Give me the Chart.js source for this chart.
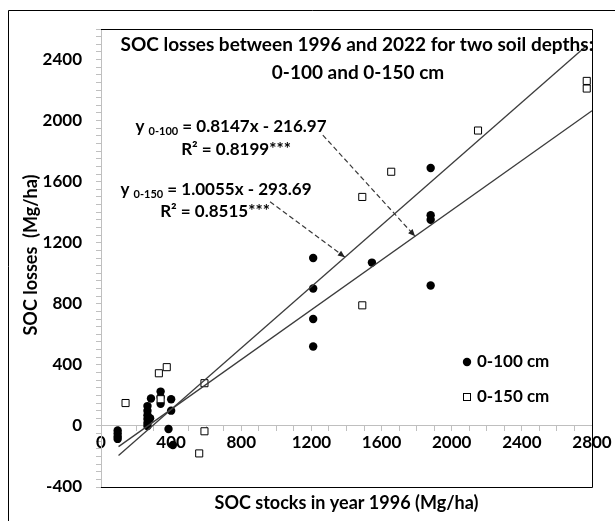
<!DOCTYPE html>
<html>
<head>
<meta charset="utf-8">
<script src="https://cdn.jsdelivr.net/npm/chart.js@4.4.1/dist/chart.umd.min.js"></script>
<style>
  html, body { margin: 0; padding: 0; background: #fff; }
  #wrap { width: 615px; height: 521px; }
</style>
</head>
<body>
<div id="wrap"><canvas id="canvas" width="615" height="521"></canvas></div>
<script>
// SOC stock in 1996 (x) vs SOC loss 1996-2022 (y), Mg/ha
var stock100 = [95, 95, 95, 95, 265, 265, 265, 265, 265, 265, 280, 285, 340, 340, 340, 400, 400, 385, 410,
                1210, 1210, 1210, 1210, 1545, 1880, 1880, 1880, 1880];
var loss100  = [-30, -50, -70, -85, 0, 20, 45, 70, 100, 130, 50, 180, 225, 190, 145, 175, 100, -20, -125,
                1100, 900, 700, 520, 1070, 1690, 1380, 1350, 920];
var stock150 = [140, 330, 375, 340, 590, 590, 560, 1490, 1490, 1655, 2150, 2770, 2770];
var loss150  = [150, 345, 385, 175, 280, -35, -180, 1500, 790, 1665, 1935, 2260, 2210];

// fitted trend lines (from the equations printed on the chart)
var trend100 = { slope: 0.8147, intercept: -216.97, from: 100, to: 2800 };
var trend150 = { slope: 1.0055, intercept: -293.69, from: 100, to: 2770 };

var chartTitle = ["SOC losses between 1996 and 2022 for two soil depths:", "0-100 and 0-150 cm"];
var xTitle = "SOC stocks in year 1996 (Mg/ha)";
var yTitle = "SOC losses  (Mg/ha)";
var seriesLabels = ["0-100 cm", "0-150 cm"];

// equation labels: [sub, rest, r2 text]
var eq100 = ["0-100", " = 0.8147x - 216.97", "R\u00B2 = 0.8199***"];
var eq150 = ["0-150", " = 1.0055x - 293.69", "R\u00B2 = 0.8515***"];
// dashed pointers: start (data units) and x where they touch the trend line
var pointer100 = { x0: 1265, y0: 1905, tipX: 1791 };
var pointer150 = { x0: 964, y0: 1469, tipX: 1391 };

function pairs(xs, ys) {
  return xs.map(function (x, i) { return { x: x, y: ys[i] }; });
}
function trendPts(t) {
  return [{ x: t.from, y: t.slope * t.from + t.intercept }, { x: t.to, y: t.slope * t.to + t.intercept }];
}

var FONT = "Lato";

function drawPointer(ctx, x0, y0, x1, y1) {
  ctx.save();
  ctx.strokeStyle = "#3a3a3a";
  ctx.lineWidth = 1.2;
  ctx.setLineDash([5, 3]);
  ctx.beginPath();
  ctx.moveTo(x0, y0);
  ctx.lineTo(x1, y1);
  ctx.stroke();
  var a = Math.atan2(y1 - y0, x1 - x0), L = 7, W = 3;
  ctx.setLineDash([]);
  ctx.fillStyle = "#222";
  ctx.beginPath();
  ctx.moveTo(x1, y1);
  ctx.lineTo(x1 - L * Math.cos(a) + W * Math.sin(a), y1 - L * Math.sin(a) - W * Math.cos(a));
  ctx.lineTo(x1 - L * Math.cos(a) - W * Math.sin(a), y1 - L * Math.sin(a) + W * Math.cos(a));
  ctx.closePath();
  ctx.fill();
  ctx.restore();
}

function drawEquation(ctx, cx, cy, parts) {
  var big = "bold 17px " + FONT, small = "bold 11px " + FONT;
  ctx.font = big;
  var wY = ctx.measureText("y ").width, wRest = ctx.measureText(parts[1]).width;
  ctx.font = small;
  var wSub = ctx.measureText(parts[0]).width;
  var x = cx - (wY + wSub + wRest) / 2;
  ctx.textAlign = "left";
  ctx.textBaseline = "middle";
  ctx.font = big;
  ctx.fillText("y ", x, cy);
  ctx.font = small;
  ctx.fillText(parts[0], x + wY, cy + 4);
  ctx.font = big;
  ctx.fillText(parts[1], x + wY + wSub, cy);
}

var decorations = {
  id: "decorations",
  beforeDraw: function (chart) {
    var ctx = chart.ctx;
    ctx.save();
    ctx.fillStyle = "#fff";
    ctx.fillRect(0, 0, chart.width, chart.height);
    ctx.restore();
  },
  afterDatasetsDraw: function (chart) {
    var ctx = chart.ctx, xs = chart.scales.x, ys = chart.scales.y;
    [[pointer100, trend100], [pointer150, trend150]].forEach(function (p) {
      var tipY = p[1].slope * p[0].tipX + p[1].intercept;
      drawPointer(ctx, xs.getPixelForValue(p[0].x0), ys.getPixelForValue(p[0].y0),
        xs.getPixelForValue(p[0].tipX), ys.getPixelForValue(tipY));
    });
  },
  afterDraw: function (chart) {
    var ctx = chart.ctx, a = chart.chartArea;
    ctx.save();
    // plot frame
    ctx.strokeStyle = "#000";
    ctx.lineWidth = 1;
    ctx.beginPath();
    ctx.moveTo(a.left, a.top + 0.5);
    ctx.lineTo(a.right + 0.5, a.top + 0.5);
    ctx.lineTo(a.right + 0.5, a.bottom + 0.5);
    ctx.lineTo(a.left, a.bottom + 0.5);
    ctx.stroke();
    // outer border (continues past the picture edge)
    ctx.beginPath();
    ctx.rect(8.5, 10.5, 700, 600);
    ctx.stroke();

    ctx.fillStyle = "#000";
    ctx.textAlign = "center";
    ctx.textBaseline = "middle";
    ctx.font = "bold 19px " + FONT;
    ctx.fillText(chartTitle[0], 357, 45);
    ctx.fillText(chartTitle[1], 358, 73);

    ctx.font = "bold 18px " + FONT;
    ctx.fillText(xTitle, (a.left + a.right) / 2, 503);
    ctx.save();
    ctx.translate(31, 255);
    ctx.rotate(-Math.PI / 2);
    ctx.fillText(yTitle, 0, 0);
    ctx.restore();

    // equations
    drawEquation(ctx, 231, 127, eq100);
    ctx.font = "bold 17px " + FONT;
    ctx.textAlign = "center";
    ctx.fillText(eq100[2], 236, 150);
    drawEquation(ctx, 216, 190, eq150);
    ctx.font = "bold 17px " + FONT;
    ctx.textAlign = "center";
    ctx.fillText(eq150[2], 215, 212);

    // legend
    ctx.textAlign = "left";
    ctx.font = "bold 17px " + FONT;
    ctx.beginPath();
    ctx.arc(467, 362, 4.2, 0, Math.PI * 2);
    ctx.fill();
    ctx.fillText(seriesLabels[0], 477, 362);
    ctx.strokeRect(463.5, 393.5, 7, 7);
    ctx.fillText(seriesLabels[1], 477, 397);
    ctx.restore();
  }
};

var tickFont = { family: FONT, size: 17, weight: "bold" };

var ctx = document.getElementById("canvas").getContext("2d");
var myChart = new Chart(ctx, {
  type: "scatter",
  data: {
    datasets: [
      {
        label: seriesLabels[0],
        data: pairs(stock100, loss100),
        pointStyle: "circle",
        pointRadius: 4.2,
        backgroundColor: "#000",
        borderColor: "#000",
        borderWidth: 0,
        order: 2,
      },
      {
        label: seriesLabels[1],
        data: pairs(stock150, loss150),
        pointStyle: "rect",
        pointRadius: 5,
        backgroundColor: "#fff",
        borderColor: "#000",
        borderWidth: 1,
        order: 1,
      },
      {
        label: "trend 0-100",
        data: trendPts(trend100),
        showLine: true,
        pointRadius: 0,
        borderColor: "#3c3c3c",
        borderWidth: 1.3,
        order: 0,
      },
      {
        label: "trend 0-150",
        data: trendPts(trend150),
        showLine: true,
        pointRadius: 0,
        borderColor: "#3c3c3c",
        borderWidth: 1.3,
        order: 0,
      },
    ],
  },
  options: {
    responsive: false,
    animation: false,
    layout: { padding: { left: 9, top: 29, right: 23, bottom: 34 } },
    plugins: {
      legend: { display: false },
      tooltip: { enabled: false },
    },
    scales: {
      x: {
        type: "linear",
        position: { y: 0 },
        min: 0,
        max: 2800,
        ticks: {
          stepSize: 100,
          autoSkip: false,
          maxRotation: 0,
          padding: 1,
          color: "#000",
          font: tickFont,
          callback: function (v) { return v % 400 === 0 ? v : ""; },
        },
        grid: { drawOnChartArea: false, tickLength: 5, color: "#bfbfbf" },
        border: { color: "#bfbfbf" },
      },
      y: {
        type: "linear",
        position: "left",
        min: -400,
        max: 2600,
        afterFit: function (s) { s.width = 92; },
        ticks: {
          stepSize: 50,
          autoSkip: false,
          padding: 14,
          color: "#000",
          font: tickFont,
          callback: function (v) { return v % 400 === 0 ? v : ""; },
        },
        grid: { drawOnChartArea: false, tickLength: 5, color: "#bfbfbf" },
        border: { color: "#bfbfbf" },
      },
    },
  },
  plugins: [decorations],
});
</script>
</body>
</html>
